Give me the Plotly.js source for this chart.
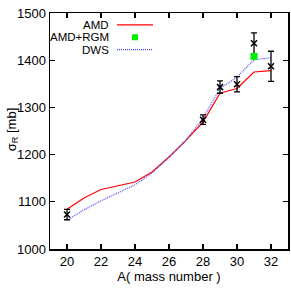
<!DOCTYPE html>
<html>
<head>
<meta charset="utf-8">
<script src="https://cdn.plot.ly/plotly-3.0.1.min.js"></script>
<style>html,body{margin:0;padding:0;background:#fff;}#chart{width:291px;height:294px;}</style>
</head>
<body>
<div id="chart"></div>
<script>
// AMD curve
const amdA = [20, 21, 22, 24, 25, 26, 27, 28, 29, 30, 31, 32];
const amdSigma = [1084, 1108, 1126, 1142, 1163, 1195, 1230, 1269, 1330, 1340, 1375, 1378];
// DWS curve
const dwsA = [20, 21, 22, 24, 25, 26, 27, 28, 29, 30, 31, 32];
const dwsSigma = [1061, 1083, 1102, 1136, 1161, 1194, 1231, 1277, 1340, 1364, 1401, 1405];
// AMD+RGM
const rgmA = [31];
const rgmSigma = [1408];
// Experimental
const expA = [20, 28, 29, 30, 31, 32];
const expSigma = [1073, 1274, 1343, 1349, 1436, 1387];
const expErr = [11, 10, 13, 16, 22, 32];

const xTicks = [20, 22, 24, 26, 28, 30, 32];
const yTicks = [1000, 1100, 1200, 1300, 1400, 1500];
const legendLabels = ['AMD', 'AMD+RGM', 'DWS'];

const font = {family: 'Liberation Sans, Arial, sans-serif', size: 13, color: '#000'};
const legFont = {family: 'Liberation Sans, Arial, sans-serif', size: 11.5, color: '#000'};

const blue = '#4a4aff';
const traces = [
  {x: amdA, y: amdSigma, type: 'scatter', mode: 'lines', line: {color: '#ff0000', width: 1.2}, showlegend: false},
  {x: dwsA, y: dwsSigma, type: 'scatter', mode: 'lines', line: {color: blue, width: 1.2, dash: '1px,1px'}, showlegend: false},
  {x: expA, y: expSigma, type: 'scatter', mode: 'markers',
   marker: {symbol: 'x-thin', size: 6, color: '#000', line: {width: 1.5, color: '#000'}},
   error_y: {type: 'data', array: expErr, visible: true, color: '#000', thickness: 1.3, width: 3}, showlegend: false},
  {x: rgmA, y: rgmSigma, type: 'scatter', mode: 'markers', marker: {symbol: 'square', size: 7, color: '#00ee00'}, showlegend: false}
];

const PL = 50, PW = 238, PT = 12.5, PH = 236.5;
const px = v => (v - PL) / PW;
const py = v => 1 - (v - PT) / PH;
const legY = [24.3, 36.8, 49.3];
const annotations = legendLabels.map((t, i) => ({
  text: t, xref: 'paper', yref: 'paper', x: px(111), y: py(legY[i]),
  xanchor: 'right', yanchor: 'middle', showarrow: false, font: legFont
}));
annotations.push({
  text: 'σ<sub>R</sub> [mb]', xref: 'paper', yref: 'paper', x: px(12), y: py(129),
  xanchor: 'center', yanchor: 'middle', textangle: -90, showarrow: false, font: font
});
const shapes = [
  {type: 'line', xref: 'paper', yref: 'paper', x0: px(117), x1: px(153), y0: py(legY[0]), y1: py(legY[0]), line: {color: '#ff0000', width: 1.2}},
  {type: 'rect', xref: 'paper', yref: 'paper', x0: px(132), x1: px(138), y0: py(legY[1] + 3), y1: py(legY[1] - 3), fillcolor: '#00ee00', line: {width: 0}},
  {type: 'line', xref: 'paper', yref: 'paper', x0: px(117), x1: px(153), y0: py(legY[2]), y1: py(legY[2]), line: {color: blue, width: 1.2, dash: '1px,1px'}}
];

const layout = {
  width: 291, height: 294,
  margin: {l: 50, r: 3, t: 12.5, b: 45},
  paper_bgcolor: '#fff', plot_bgcolor: '#fff',
  font: font,
  showlegend: false,
  xaxis: {range: [19, 33], tickvals: xTicks, ticktext: xTicks.map(String), ticks: 'inside', ticklen: 5, tickwidth: 1.3,
          tickcolor: '#000', showline: true, linecolor: '#000', linewidth: 1.5, mirror: 'ticks', showgrid: false, zeroline: false,
          title: {text: 'A( mass number )', font: font, standoff: 3}, tickfont: font},
  yaxis: {range: [1000, 1500], tickvals: yTicks, ticktext: yTicks.map(String), ticks: 'inside', ticklen: 5, tickwidth: 1.3,
          tickcolor: '#000', showline: true, linecolor: '#000', linewidth: 1.5, mirror: 'ticks', showgrid: false, zeroline: false,
          tickfont: font},
  annotations: annotations,
  shapes: shapes
};

Plotly.newPlot('chart', traces, layout, {displayModeBar: false, staticPlot: true});
</script>
</body>
</html>
